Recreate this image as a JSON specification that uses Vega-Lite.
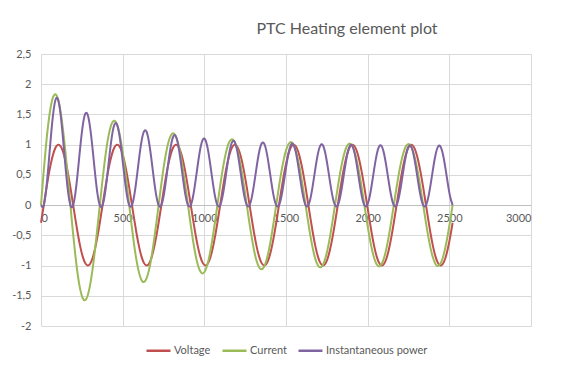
{
"$schema": "https://vega.github.io/schema/vega-lite/v6.json",
"width": 490, "height": 272,
"autosize": {"type": "none"},
"padding": {"left": 41, "top": 54, "right": 30, "bottom": 47},
"background": "white",
"title": {"text": "PTC Heating element plot", "fontSize": 16, "font": "Lato", "fontWeight": "normal", "color": "#595959", "anchor": "middle", "dx": 61, "offset": 11},
"data": {"values": [
{"t":0,"Voltage":-0.292,"Current":0,"Instantaneous power":0},
{"t":15,"Voltage":-0.035,"Current":0.510,"Instantaneous power":-0.018},
{"t":30,"Voltage":0.225,"Current":0.970,"Instantaneous power":0.218},
{"t":45,"Voltage":0.470,"Current":1.352,"Instantaneous power":0.635},
{"t":60,"Voltage":0.682,"Current":1.631,"Instantaneous power":1.112},
{"t":75,"Voltage":0.848,"Current":1.793,"Instantaneous power":1.521},
{"t":90,"Voltage":0.956,"Current":1.831,"Instantaneous power":1.751},
{"t":105,"Voltage":0.999,"Current":1.744,"Instantaneous power":1.743},
{"t":120,"Voltage":0.974,"Current":1.542,"Instantaneous power":1.503},
{"t":135,"Voltage":0.883,"Current":1.242,"Instantaneous power":1.097},
{"t":150,"Voltage":0.731,"Current":0.867,"Instantaneous power":0.634},
{"t":165,"Voltage":0.530,"Current":0.443,"Instantaneous power":0.235},
{"t":180,"Voltage":0.292,"Current":0,"Instantaneous power":0},
{"t":195,"Voltage":0.035,"Current":-0.432,"Instantaneous power":-0.015},
{"t":210,"Voltage":-0.225,"Current":-0.824,"Instantaneous power":0.186},
{"t":225,"Voltage":-0.470,"Current":-1.152,"Instantaneous power":0.541},
{"t":240,"Voltage":-0.682,"Current":-1.394,"Instantaneous power":0.951},
{"t":255,"Voltage":-0.848,"Current":-1.537,"Instantaneous power":1.303},
{"t":270,"Voltage":-0.956,"Current":-1.573,"Instantaneous power":1.504},
{"t":285,"Voltage":-0.999,"Current":-1.503,"Instantaneous power":1.502},
{"t":300,"Voltage":-0.974,"Current":-1.333,"Instantaneous power":1.298},
{"t":315,"Voltage":-0.883,"Current":-1.076,"Instantaneous power":0.950},
{"t":330,"Voltage":-0.731,"Current":-0.753,"Instantaneous power":0.551},
{"t":345,"Voltage":-0.530,"Current":-0.386,"Instantaneous power":0.204},
{"t":360,"Voltage":-0.292,"Current":0,"Instantaneous power":0},
{"t":375,"Voltage":-0.035,"Current":0.378,"Instantaneous power":-0.013},
{"t":390,"Voltage":0.225,"Current":0.724,"Instantaneous power":0.163},
{"t":405,"Voltage":0.470,"Current":1.014,"Instantaneous power":0.476},
{"t":420,"Voltage":0.682,"Current":1.230,"Instantaneous power":0.839},
{"t":435,"Voltage":0.848,"Current":1.360,"Instantaneous power":1.153},
{"t":450,"Voltage":0.956,"Current":1.395,"Instantaneous power":1.334},
{"t":465,"Voltage":0.999,"Current":1.336,"Instantaneous power":1.335},
{"t":480,"Voltage":0.974,"Current":1.188,"Instantaneous power":1.157},
{"t":495,"Voltage":0.883,"Current":0.962,"Instantaneous power":0.849},
{"t":510,"Voltage":0.731,"Current":0.675,"Instantaneous power":0.493},
{"t":525,"Voltage":0.530,"Current":0.346,"Instantaneous power":0.184},
{"t":540,"Voltage":0.292,"Current":0,"Instantaneous power":0},
{"t":555,"Voltage":0.035,"Current":-0.341,"Instantaneous power":-0.012},
{"t":570,"Voltage":-0.225,"Current":-0.654,"Instantaneous power":0.147},
{"t":585,"Voltage":-0.470,"Current":-0.919,"Instantaneous power":0.431},
{"t":600,"Voltage":-0.682,"Current":-1.117,"Instantaneous power":0.762},
{"t":615,"Voltage":-0.848,"Current":-1.238,"Instantaneous power":1.050},
{"t":630,"Voltage":-0.956,"Current":-1.273,"Instantaneous power":1.217},
{"t":645,"Voltage":-0.999,"Current":-1.221,"Instantaneous power":1.221},
{"t":660,"Voltage":-0.974,"Current":-1.088,"Instantaneous power":1.060},
{"t":675,"Voltage":-0.883,"Current":-0.883,"Instantaneous power":0.780},
{"t":690,"Voltage":-0.731,"Current":-0.621,"Instantaneous power":0.454},
{"t":705,"Voltage":-0.530,"Current":-0.319,"Instantaneous power":0.169},
{"t":720,"Voltage":-0.292,"Current":0,"Instantaneous power":0},
{"t":735,"Voltage":-0.035,"Current":0.316,"Instantaneous power":-0.011},
{"t":750,"Voltage":0.225,"Current":0.607,"Instantaneous power":0.136},
{"t":765,"Voltage":0.470,"Current":0.853,"Instantaneous power":0.401},
{"t":780,"Voltage":0.682,"Current":1.039,"Instantaneous power":0.709},
{"t":795,"Voltage":0.848,"Current":1.153,"Instantaneous power":0.978},
{"t":810,"Voltage":0.956,"Current":1.188,"Instantaneous power":1.136},
{"t":825,"Voltage":0.999,"Current":1.142,"Instantaneous power":1.141},
{"t":840,"Voltage":0.974,"Current":1.019,"Instantaneous power":0.993},
{"t":855,"Voltage":0.883,"Current":0.828,"Instantaneous power":0.731},
{"t":870,"Voltage":0.731,"Current":0.583,"Instantaneous power":0.427},
{"t":885,"Voltage":0.530,"Current":0.301,"Instantaneous power":0.159},
{"t":900,"Voltage":0.292,"Current":0,"Instantaneous power":0},
{"t":915,"Voltage":0.035,"Current":-0.298,"Instantaneous power":-0.010},
{"t":930,"Voltage":-0.225,"Current":-0.573,"Instantaneous power":0.129},
{"t":945,"Voltage":-0.470,"Current":-0.808,"Instantaneous power":0.379},
{"t":960,"Voltage":-0.682,"Current":-0.986,"Instantaneous power":0.672},
{"t":975,"Voltage":-0.848,"Current":-1.095,"Instantaneous power":0.929},
{"t":990,"Voltage":-0.956,"Current":-1.130,"Instantaneous power":1.080},
{"t":1005,"Voltage":-0.999,"Current":-1.088,"Instantaneous power":1.087},
{"t":1020,"Voltage":-0.974,"Current":-0.972,"Instantaneous power":0.947},
{"t":1035,"Voltage":-0.883,"Current":-0.791,"Instantaneous power":0.698},
{"t":1050,"Voltage":-0.731,"Current":-0.557,"Instantaneous power":0.408},
{"t":1065,"Voltage":-0.530,"Current":-0.288,"Instantaneous power":0.152},
{"t":1080,"Voltage":-0.292,"Current":0,"Instantaneous power":0},
{"t":1095,"Voltage":-0.035,"Current":0.286,"Instantaneous power":-0.010},
{"t":1110,"Voltage":0.225,"Current":0.551,"Instantaneous power":0.124},
{"t":1125,"Voltage":0.470,"Current":0.777,"Instantaneous power":0.365},
{"t":1140,"Voltage":0.682,"Current":0.949,"Instantaneous power":0.647},
{"t":1155,"Voltage":0.848,"Current":1.055,"Instantaneous power":0.895},
{"t":1170,"Voltage":0.956,"Current":1.090,"Instantaneous power":1.042},
{"t":1185,"Voltage":0.999,"Current":1.050,"Instantaneous power":1.049},
{"t":1200,"Voltage":0.974,"Current":0.939,"Instantaneous power":0.915},
{"t":1215,"Voltage":0.883,"Current":0.765,"Instantaneous power":0.675},
{"t":1230,"Voltage":0.731,"Current":0.540,"Instantaneous power":0.395},
{"t":1245,"Voltage":0.530,"Current":0.279,"Instantaneous power":0.148},
{"t":1260,"Voltage":0.292,"Current":0,"Instantaneous power":0},
{"t":1275,"Voltage":0.035,"Current":-0.277,"Instantaneous power":-0.010},
{"t":1290,"Voltage":-0.225,"Current":-0.535,"Instantaneous power":0.120},
{"t":1305,"Voltage":-0.470,"Current":-0.755,"Instantaneous power":0.355},
{"t":1320,"Voltage":-0.682,"Current":-0.923,"Instantaneous power":0.629},
{"t":1335,"Voltage":-0.848,"Current":-1.028,"Instantaneous power":0.871},
{"t":1350,"Voltage":-0.956,"Current":-1.062,"Instantaneous power":1.015},
{"t":1365,"Voltage":-0.999,"Current":-1.024,"Instantaneous power":1.023},
{"t":1380,"Voltage":-0.974,"Current":-0.916,"Instantaneous power":0.893},
{"t":1395,"Voltage":-0.883,"Current":-0.747,"Instantaneous power":0.659},
{"t":1410,"Voltage":-0.731,"Current":-0.527,"Instantaneous power":0.386},
{"t":1425,"Voltage":-0.530,"Current":-0.273,"Instantaneous power":0.144},
{"t":1440,"Voltage":-0.292,"Current":0,"Instantaneous power":0},
{"t":1455,"Voltage":-0.035,"Current":0.272,"Instantaneous power":-0.009},
{"t":1470,"Voltage":0.225,"Current":0.524,"Instantaneous power":0.118},
{"t":1485,"Voltage":0.470,"Current":0.740,"Instantaneous power":0.348},
{"t":1500,"Voltage":0.682,"Current":0.905,"Instantaneous power":0.617},
{"t":1515,"Voltage":0.848,"Current":1.008,"Instantaneous power":0.855},
{"t":1530,"Voltage":0.956,"Current":1.043,"Instantaneous power":0.997},
{"t":1545,"Voltage":0.999,"Current":1.006,"Instantaneous power":1.005},
{"t":1560,"Voltage":0.974,"Current":0.901,"Instantaneous power":0.878},
{"t":1575,"Voltage":0.883,"Current":0.735,"Instantaneous power":0.649},
{"t":1590,"Voltage":0.731,"Current":0.519,"Instantaneous power":0.379},
{"t":1605,"Voltage":0.530,"Current":0.268,"Instantaneous power":0.142},
{"t":1620,"Voltage":0.292,"Current":0,"Instantaneous power":0},
{"t":1635,"Voltage":0.035,"Current":-0.268,"Instantaneous power":-0.009},
{"t":1650,"Voltage":-0.225,"Current":-0.517,"Instantaneous power":0.116},
{"t":1665,"Voltage":-0.470,"Current":-0.730,"Instantaneous power":0.343},
{"t":1680,"Voltage":-0.682,"Current":-0.893,"Instantaneous power":0.609},
{"t":1695,"Voltage":-0.848,"Current":-0.995,"Instantaneous power":0.844},
{"t":1710,"Voltage":-0.956,"Current":-1.029,"Instantaneous power":0.984},
{"t":1725,"Voltage":-0.999,"Current":-0.993,"Instantaneous power":0.993},
{"t":1740,"Voltage":-0.974,"Current":-0.890,"Instantaneous power":0.867},
{"t":1755,"Voltage":-0.883,"Current":-0.726,"Instantaneous power":0.641},
{"t":1770,"Voltage":-0.731,"Current":-0.513,"Instantaneous power":0.375},
{"t":1785,"Voltage":-0.530,"Current":-0.265,"Instantaneous power":0.141},
{"t":1800,"Voltage":-0.292,"Current":0,"Instantaneous power":0},
{"t":1815,"Voltage":-0.035,"Current":0.265,"Instantaneous power":-0.009},
{"t":1830,"Voltage":0.225,"Current":0.511,"Instantaneous power":0.115},
{"t":1845,"Voltage":0.470,"Current":0.723,"Instantaneous power":0.339},
{"t":1860,"Voltage":0.682,"Current":0.885,"Instantaneous power":0.603},
{"t":1875,"Voltage":0.848,"Current":0.986,"Instantaneous power":0.836},
{"t":1890,"Voltage":0.956,"Current":1.020,"Instantaneous power":0.976},
{"t":1905,"Voltage":0.999,"Current":0.985,"Instantaneous power":0.984},
{"t":1920,"Voltage":0.974,"Current":0.883,"Instantaneous power":0.860},
{"t":1935,"Voltage":0.883,"Current":0.720,"Instantaneous power":0.636},
{"t":1950,"Voltage":0.731,"Current":0.509,"Instantaneous power":0.372},
{"t":1965,"Voltage":0.530,"Current":0.263,"Instantaneous power":0.139},
{"t":1980,"Voltage":0.292,"Current":0,"Instantaneous power":0},
{"t":1995,"Voltage":0.035,"Current":-0.263,"Instantaneous power":-0.009},
{"t":2010,"Voltage":-0.225,"Current":-0.508,"Instantaneous power":0.114},
{"t":2025,"Voltage":-0.470,"Current":-0.718,"Instantaneous power":0.337},
{"t":2040,"Voltage":-0.682,"Current":-0.879,"Instantaneous power":0.599},
{"t":2055,"Voltage":-0.848,"Current":-0.980,"Instantaneous power":0.831},
{"t":2070,"Voltage":-0.956,"Current":-1.014,"Instantaneous power":0.970},
{"t":2085,"Voltage":-0.999,"Current":-0.979,"Instantaneous power":0.978},
{"t":2100,"Voltage":-0.974,"Current":-0.877,"Instantaneous power":0.855},
{"t":2115,"Voltage":-0.883,"Current":-0.716,"Instantaneous power":0.632},
{"t":2130,"Voltage":-0.731,"Current":-0.506,"Instantaneous power":0.370},
{"t":2145,"Voltage":-0.530,"Current":-0.262,"Instantaneous power":0.139},
{"t":2160,"Voltage":-0.292,"Current":0,"Instantaneous power":0},
{"t":2175,"Voltage":-0.035,"Current":0.262,"Instantaneous power":-0.009},
{"t":2190,"Voltage":0.225,"Current":0.505,"Instantaneous power":0.114},
{"t":2205,"Voltage":0.470,"Current":0.715,"Instantaneous power":0.336},
{"t":2220,"Voltage":0.682,"Current":0.875,"Instantaneous power":0.597},
{"t":2235,"Voltage":0.848,"Current":0.976,"Instantaneous power":0.827},
{"t":2250,"Voltage":0.956,"Current":1.010,"Instantaneous power":0.966},
{"t":2265,"Voltage":0.999,"Current":0.975,"Instantaneous power":0.974},
{"t":2280,"Voltage":0.974,"Current":0.874,"Instantaneous power":0.851},
{"t":2295,"Voltage":0.883,"Current":0.713,"Instantaneous power":0.630},
{"t":2310,"Voltage":0.731,"Current":0.504,"Instantaneous power":0.369},
{"t":2325,"Voltage":0.530,"Current":0.261,"Instantaneous power":0.138},
{"t":2340,"Voltage":0.292,"Current":0,"Instantaneous power":0},
{"t":2355,"Voltage":0.035,"Current":-0.261,"Instantaneous power":-0.009},
{"t":2370,"Voltage":-0.225,"Current":-0.504,"Instantaneous power":0.113},
{"t":2385,"Voltage":-0.470,"Current":-0.712,"Instantaneous power":0.334},
{"t":2400,"Voltage":-0.682,"Current":-0.872,"Instantaneous power":0.595},
{"t":2415,"Voltage":-0.848,"Current":-0.973,"Instantaneous power":0.825},
{"t":2430,"Voltage":-0.956,"Current":-1.007,"Instantaneous power":0.963},
{"t":2445,"Voltage":-0.999,"Current":-0.972,"Instantaneous power":0.972},
{"t":2460,"Voltage":-0.974,"Current":-0.871,"Instantaneous power":0.849},
{"t":2475,"Voltage":-0.883,"Current":-0.711,"Instantaneous power":0.628},
{"t":2490,"Voltage":-0.731,"Current":-0.503,"Instantaneous power":0.368},
{"t":2505,"Voltage":-0.530,"Current":-0.260,"Instantaneous power":0.138},
{"t":2520,"Voltage":-0.292,"Current":0,"Instantaneous power":0}
]},
"transform": [{"fold": ["Voltage", "Current", "Instantaneous power"], "as": ["series", "value"]}],
"mark": {"type": "line", "interpolate": "natural", "strokeWidth": 2},
"encoding": {
  "x": {"field": "t", "type": "quantitative",
    "scale": {"domain": [0, 3000], "nice": false},
    "axis": {"values": [0, 500, 1000, 1500, 2000, 2500, 3000], "format": "d", "offset": -121, "grid": true, "ticks": false, "labelPadding": 7, "title": null, "domainColor": "#bfbfbf", "domainWidth": 1}},
  "y": {"field": "value", "type": "quantitative",
    "scale": {"domain": [-2, 2.5], "nice": false, "zero": false},
    "axis": {"values": [-2, -1.5, -1, -0.5, 0, 0.5, 1, 1.5, 2, 2.5], "labelExpr": "replace(toString(datum.value), '.', ',')", "domain": false, "ticks": false, "labelPadding": 10, "title": null}},
  "color": {"field": "series", "type": "nominal",
    "scale": {"domain": ["Voltage", "Current", "Instantaneous power"], "range": ["#C0504D", "#9BBB59", "#8064A2"]},
    "legend": {"orient": "none", "legendX": 104, "legendY": 283, "direction": "horizontal", "title": null, "symbolType": "stroke", "symbolSize": 576, "symbolStrokeWidth": 2.5, "labelFontSize": 11, "labelColor": "#595959", "labelFont": "Lato", "columnPadding": 6, "labelOffset": 2}}
},
"config": {
  "view": {"stroke": null},
  "axis": {"gridColor": "#d9d9d9", "gridWidth": 1, "labelColor": "#595959", "labelFontSize": 11, "labelFont": "Lato"}
}
}
